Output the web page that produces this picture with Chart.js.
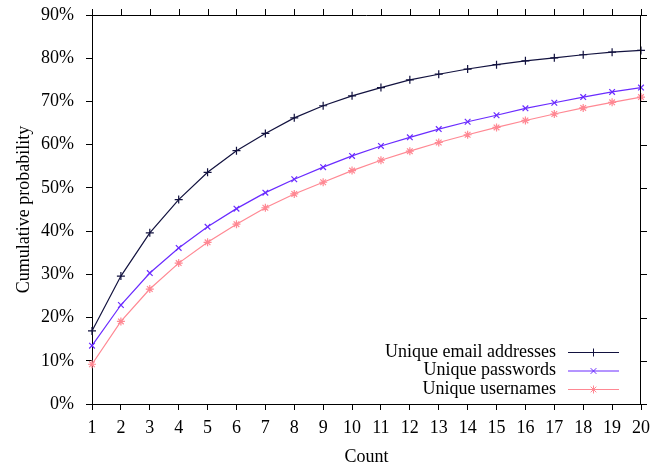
<html>
<head>
<meta charset="utf-8">
<script src="https://cdn.jsdelivr.net/npm/chart.js@4.4.1/dist/chart.umd.min.js"></script>
<title>Cumulative probability</title>
<style>
  body { margin: 0; background: #fff; }
  #wrap { position: relative; width: 665px; height: 465px; }
</style>
</head>
<body>
<div id="wrap"><canvas id="cdf"></canvas></div>
<script>
// values (percent)
const counts = [1,2,3,4,5,6,7,8,9,10,11,12,13,14,15,16,17,18,19,20];
const emailPct = [16.9,29.6,39.6,47.3,53.6,58.6,62.6,66.2,69.0,71.3,73.2,75.0,76.3,77.5,78.5,79.4,80.1,80.8,81.4,81.8];
const passwordPct = [13.5,22.9,30.3,36.1,41.0,45.2,48.9,52.0,54.8,57.4,59.7,61.7,63.6,65.3,66.8,68.4,69.7,71.0,72.2,73.2];
const usernamePct = [9.2,19.1,26.6,32.6,37.4,41.6,45.4,48.6,51.3,54.0,56.4,58.5,60.5,62.3,64.0,65.6,67.1,68.5,69.8,71.0];
const seriesNames = ['Unique email addresses', 'Unique passwords', 'Unique usernames'];
const yMin = 0, yMax = 90, yStep = 10;

const FONT = '"Liberation Serif", "DejaVu Serif", serif';

function pts(vals) {
  return counts.map((c, i) => ({ x: c, y: vals[i] }));
}

// gnuplot-ish frame: mirror ticks on top and right, plus legend inside
const framePlugin = {
  id: 'frame',
  afterDraw(chart) {
    const ctx = chart.ctx;
    const a = chart.chartArea;
    const xs = chart.scales.x, ys = chart.scales.y;
    ctx.save();
    ctx.strokeStyle = '#000';
    ctx.lineWidth = 1;
    ctx.beginPath();
    ctx.moveTo(a.left, a.top + 0.5); ctx.lineTo(a.right, a.top + 0.5);
    ctx.moveTo(a.right - 0.5, a.top); ctx.lineTo(a.right - 0.5, a.bottom);
    xs.ticks.forEach(t => {
      const px = Math.round(xs.getPixelForValue(t.value)) + 0.5;
      ctx.moveTo(px, a.top); ctx.lineTo(px, a.top - 6);
    });
    ys.ticks.forEach(t => {
      const py = Math.round(ys.getPixelForValue(t.value)) + 0.5;
      ctx.moveTo(a.right, py); ctx.lineTo(a.right + 6, py);
    });
    ctx.stroke();

    // legend
    ctx.font = '18px ' + FONT;
    ctx.textAlign = 'right';
    ctx.textBaseline = 'middle';
    const textRight = a.right - 85, lx0 = a.right - 73, lx1 = a.right - 22;
    let ly = a.bottom - 52;
    chart.data.datasets.forEach(ds => {
      ctx.fillStyle = '#000';
      ctx.fillText(ds.label, textRight, ly);
      ctx.strokeStyle = ds.borderColor;
      ctx.lineWidth = 1;
      ctx.beginPath();
      ctx.moveTo(lx0, ly + 0.5); ctx.lineTo(lx1, ly + 0.5);
      ctx.stroke();
      Chart.helpers.drawPoint(ctx, {
        pointStyle: ds.pointStyle, radius: ds.pointRadius, borderWidth: 1, rotation: 0
      }, (lx0 + lx1) / 2, ly + 0.5);
      ly += 18.5;
    });
    ctx.restore();
  }
};

const colors = ['#12123f', '#6a2bff', '#ff8893'];
const styles = ['cross', 'crossRot', 'star'];
const allVals = [emailPct, passwordPct, usernamePct];

new Chart(document.getElementById('cdf'), {
  type: 'line',
  data: {
    datasets: allVals.map((v, i) => ({
      label: seriesNames[i],
      data: pts(v),
      borderColor: colors[i],
      backgroundColor: colors[i],
      borderWidth: 1.2,
      pointStyle: styles[i],
      pointRadius: 4,
      pointBorderWidth: 1.2,
      pointBorderColor: colors[i],
      tension: 0,
      clip: false
    }))
  },
  options: {
    responsive: true,
    maintainAspectRatio: false,
    animation: false,
    layout: { padding: { top: 15, right: 24, left: 0, bottom: 0 } },
    plugins: { legend: { display: false }, tooltip: { enabled: false } },
    scales: {
      x: {
        type: 'linear', min: 1, max: 20,
        afterFit(s) { s.height = 61; s.paddingLeft = 0; s.paddingRight = 0; },
        ticks: { stepSize: 1, color: '#000', padding: 7, font: { family: FONT, size: 18 } },
        grid: { drawOnChartArea: false, tickLength: 6, color: '#000' },
        border: { color: '#000', width: 1 },
        title: { display: true, text: 'Count', color: '#000', padding: { top: 0, bottom: -3 }, font: { family: FONT, size: 18 } }
      },
      y: {
        min: yMin, max: yMax,
        afterFit(s) { s.width = 92; s.paddingTop = 0; s.paddingBottom = 0; },
        ticks: { stepSize: yStep, color: '#000', padding: 12, font: { family: FONT, size: 18 },
                 callback: v => v + '%' },
        grid: { drawOnChartArea: false, tickLength: 6, color: '#000' },
        border: { color: '#000', width: 1 },
        title: { display: true, text: 'Cumulative probability', color: '#000', padding: { top: 13, bottom: 0 }, font: { family: FONT, size: 18 } }
      }
    }
  },
  plugins: [framePlugin]
});
</script>
</body>
</html>
